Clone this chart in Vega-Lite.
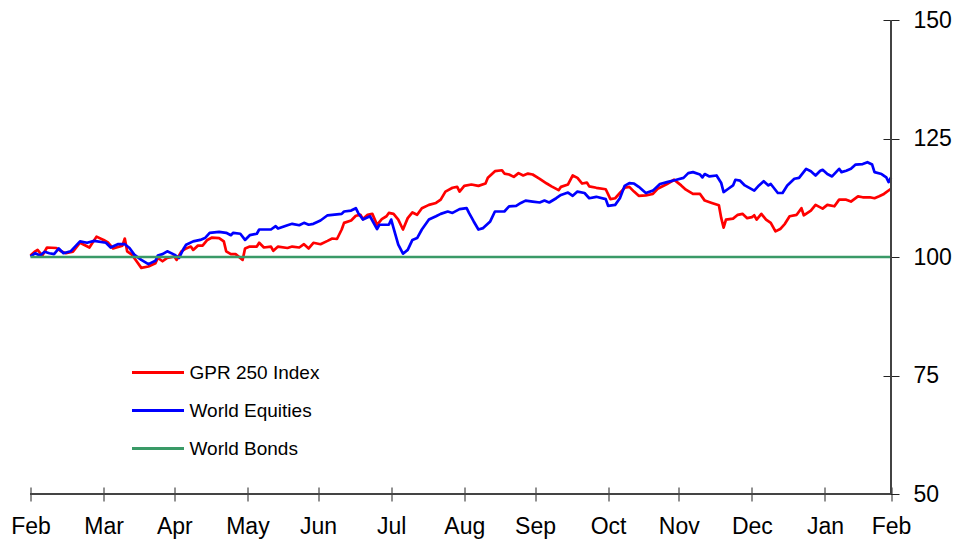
{
  "$schema": "https://vega.github.io/schema/vega-lite/v6.json",
  "width": 860.5,
  "height": 474,
  "autosize": {"type": "none"},
  "padding": {"left": 30.5, "top": 20, "right": 73, "bottom": 49},
  "background": "white",
  "config": {"view": {"stroke": null}, "font": "Liberation Sans"},
  "data": {"values": [
    {"date":"2022-02-28","series":"GPR 250 Index","value":100.3},
    {"date":"2022-03-02","series":"GPR 250 Index","value":101.2},
    {"date":"2022-03-03","series":"GPR 250 Index","value":101.5},
    {"date":"2022-03-05","series":"GPR 250 Index","value":100.3},
    {"date":"2022-03-07","series":"GPR 250 Index","value":102.0},
    {"date":"2022-03-11","series":"GPR 250 Index","value":101.9},
    {"date":"2022-03-13","series":"GPR 250 Index","value":101.2},
    {"date":"2022-03-15","series":"GPR 250 Index","value":100.8},
    {"date":"2022-03-18","series":"GPR 250 Index","value":101.1},
    {"date":"2022-03-21","series":"GPR 250 Index","value":103.0},
    {"date":"2022-03-25","series":"GPR 250 Index","value":102.0},
    {"date":"2022-03-28","series":"GPR 250 Index","value":104.3},
    {"date":"2022-03-31","series":"GPR 250 Index","value":103.6},
    {"date":"2022-04-02","series":"GPR 250 Index","value":103.0},
    {"date":"2022-04-04","series":"GPR 250 Index","value":101.8},
    {"date":"2022-04-08","series":"GPR 250 Index","value":102.4},
    {"date":"2022-04-09","series":"GPR 250 Index","value":103.9},
    {"date":"2022-04-10","series":"GPR 250 Index","value":101.2},
    {"date":"2022-04-12","series":"GPR 250 Index","value":100.5},
    {"date":"2022-04-14","series":"GPR 250 Index","value":99.1},
    {"date":"2022-04-16","series":"GPR 250 Index","value":97.7},
    {"date":"2022-04-19","series":"GPR 250 Index","value":98.0},
    {"date":"2022-04-22","series":"GPR 250 Index","value":98.7},
    {"date":"2022-04-23","series":"GPR 250 Index","value":99.8},
    {"date":"2022-04-25","series":"GPR 250 Index","value":99.1},
    {"date":"2022-04-27","series":"GPR 250 Index","value":99.8},
    {"date":"2022-04-30","series":"GPR 250 Index","value":100.1},
    {"date":"2022-05-01","series":"GPR 250 Index","value":99.4},
    {"date":"2022-05-03","series":"GPR 250 Index","value":101.2},
    {"date":"2022-05-05","series":"GPR 250 Index","value":101.8},
    {"date":"2022-05-07","series":"GPR 250 Index","value":102.2},
    {"date":"2022-05-08","series":"GPR 250 Index","value":101.5},
    {"date":"2022-05-10","series":"GPR 250 Index","value":102.4},
    {"date":"2022-05-12","series":"GPR 250 Index","value":102.4},
    {"date":"2022-05-14","series":"GPR 250 Index","value":103.6},
    {"date":"2022-05-16","series":"GPR 250 Index","value":104.1},
    {"date":"2022-05-19","series":"GPR 250 Index","value":104.0},
    {"date":"2022-05-21","series":"GPR 250 Index","value":103.3},
    {"date":"2022-05-22","series":"GPR 250 Index","value":101.2},
    {"date":"2022-05-24","series":"GPR 250 Index","value":100.6},
    {"date":"2022-05-26","series":"GPR 250 Index","value":100.6},
    {"date":"2022-05-29","series":"GPR 250 Index","value":99.4},
    {"date":"2022-05-30","series":"GPR 250 Index","value":101.8},
    {"date":"2022-06-01","series":"GPR 250 Index","value":102.2},
    {"date":"2022-06-04","series":"GPR 250 Index","value":102.2},
    {"date":"2022-06-05","series":"GPR 250 Index","value":103.0},
    {"date":"2022-06-07","series":"GPR 250 Index","value":102.0},
    {"date":"2022-06-10","series":"GPR 250 Index","value":102.2},
    {"date":"2022-06-11","series":"GPR 250 Index","value":101.3},
    {"date":"2022-06-13","series":"GPR 250 Index","value":102.2},
    {"date":"2022-06-17","series":"GPR 250 Index","value":101.9},
    {"date":"2022-06-19","series":"GPR 250 Index","value":102.2},
    {"date":"2022-06-22","series":"GPR 250 Index","value":102.0},
    {"date":"2022-06-24","series":"GPR 250 Index","value":102.7},
    {"date":"2022-06-26","series":"GPR 250 Index","value":101.8},
    {"date":"2022-06-28","series":"GPR 250 Index","value":103.0},
    {"date":"2022-07-01","series":"GPR 250 Index","value":102.7},
    {"date":"2022-07-04","series":"GPR 250 Index","value":103.4},
    {"date":"2022-07-06","series":"GPR 250 Index","value":103.9},
    {"date":"2022-07-08","series":"GPR 250 Index","value":103.8},
    {"date":"2022-07-10","series":"GPR 250 Index","value":105.8},
    {"date":"2022-07-11","series":"GPR 250 Index","value":107.2},
    {"date":"2022-07-14","series":"GPR 250 Index","value":107.7},
    {"date":"2022-07-16","series":"GPR 250 Index","value":108.7},
    {"date":"2022-07-18","series":"GPR 250 Index","value":108.9},
    {"date":"2022-07-19","series":"GPR 250 Index","value":108.0},
    {"date":"2022-07-21","series":"GPR 250 Index","value":108.9},
    {"date":"2022-07-23","series":"GPR 250 Index","value":109.1},
    {"date":"2022-07-25","series":"GPR 250 Index","value":106.8},
    {"date":"2022-07-27","series":"GPR 250 Index","value":108.0},
    {"date":"2022-07-29","series":"GPR 250 Index","value":108.6},
    {"date":"2022-07-30","series":"GPR 250 Index","value":109.3},
    {"date":"2022-08-01","series":"GPR 250 Index","value":109.1},
    {"date":"2022-08-03","series":"GPR 250 Index","value":107.9},
    {"date":"2022-08-05","series":"GPR 250 Index","value":105.8},
    {"date":"2022-08-07","series":"GPR 250 Index","value":108.2},
    {"date":"2022-08-09","series":"GPR 250 Index","value":109.4},
    {"date":"2022-08-11","series":"GPR 250 Index","value":108.9},
    {"date":"2022-08-13","series":"GPR 250 Index","value":110.3},
    {"date":"2022-08-16","series":"GPR 250 Index","value":111.0},
    {"date":"2022-08-19","series":"GPR 250 Index","value":111.4},
    {"date":"2022-08-21","series":"GPR 250 Index","value":112.1},
    {"date":"2022-08-23","series":"GPR 250 Index","value":113.8},
    {"date":"2022-08-26","series":"GPR 250 Index","value":114.6},
    {"date":"2022-08-28","series":"GPR 250 Index","value":114.8},
    {"date":"2022-08-29","series":"GPR 250 Index","value":113.8},
    {"date":"2022-08-31","series":"GPR 250 Index","value":115.0},
    {"date":"2022-09-03","series":"GPR 250 Index","value":115.3},
    {"date":"2022-09-06","series":"GPR 250 Index","value":115.0},
    {"date":"2022-09-09","series":"GPR 250 Index","value":115.5},
    {"date":"2022-09-10","series":"GPR 250 Index","value":116.7},
    {"date":"2022-09-13","series":"GPR 250 Index","value":118.1},
    {"date":"2022-09-16","series":"GPR 250 Index","value":118.3},
    {"date":"2022-09-17","series":"GPR 250 Index","value":117.6},
    {"date":"2022-09-19","series":"GPR 250 Index","value":117.4},
    {"date":"2022-09-21","series":"GPR 250 Index","value":116.9},
    {"date":"2022-09-23","series":"GPR 250 Index","value":117.7},
    {"date":"2022-09-25","series":"GPR 250 Index","value":117.2},
    {"date":"2022-09-27","series":"GPR 250 Index","value":117.6},
    {"date":"2022-09-29","series":"GPR 250 Index","value":117.4},
    {"date":"2022-10-02","series":"GPR 250 Index","value":116.5},
    {"date":"2022-10-05","series":"GPR 250 Index","value":115.5},
    {"date":"2022-10-07","series":"GPR 250 Index","value":114.9},
    {"date":"2022-10-10","series":"GPR 250 Index","value":114.1},
    {"date":"2022-10-11","series":"GPR 250 Index","value":114.8},
    {"date":"2022-10-14","series":"GPR 250 Index","value":115.3},
    {"date":"2022-10-16","series":"GPR 250 Index","value":117.2},
    {"date":"2022-10-18","series":"GPR 250 Index","value":116.7},
    {"date":"2022-10-20","series":"GPR 250 Index","value":115.5},
    {"date":"2022-10-22","series":"GPR 250 Index","value":115.7},
    {"date":"2022-10-23","series":"GPR 250 Index","value":114.9},
    {"date":"2022-10-26","series":"GPR 250 Index","value":114.6},
    {"date":"2022-10-30","series":"GPR 250 Index","value":114.3},
    {"date":"2022-11-01","series":"GPR 250 Index","value":112.2},
    {"date":"2022-11-03","series":"GPR 250 Index","value":112.4},
    {"date":"2022-11-05","series":"GPR 250 Index","value":113.5},
    {"date":"2022-11-07","series":"GPR 250 Index","value":114.6},
    {"date":"2022-11-09","series":"GPR 250 Index","value":114.8},
    {"date":"2022-11-11","series":"GPR 250 Index","value":113.8},
    {"date":"2022-11-13","series":"GPR 250 Index","value":112.9},
    {"date":"2022-11-16","series":"GPR 250 Index","value":113.0},
    {"date":"2022-11-19","series":"GPR 250 Index","value":113.3},
    {"date":"2022-11-21","series":"GPR 250 Index","value":114.4},
    {"date":"2022-11-25","series":"GPR 250 Index","value":115.4},
    {"date":"2022-11-28","series":"GPR 250 Index","value":116.3},
    {"date":"2022-11-29","series":"GPR 250 Index","value":115.9},
    {"date":"2022-12-01","series":"GPR 250 Index","value":115.1},
    {"date":"2022-12-03","series":"GPR 250 Index","value":114.2},
    {"date":"2022-12-06","series":"GPR 250 Index","value":113.3},
    {"date":"2022-12-09","series":"GPR 250 Index","value":113.3},
    {"date":"2022-12-11","series":"GPR 250 Index","value":111.9},
    {"date":"2022-12-14","series":"GPR 250 Index","value":111.4},
    {"date":"2022-12-17","series":"GPR 250 Index","value":110.9},
    {"date":"2022-12-18","series":"GPR 250 Index","value":108.2},
    {"date":"2022-12-19","series":"GPR 250 Index","value":106.2},
    {"date":"2022-12-20","series":"GPR 250 Index","value":107.9},
    {"date":"2022-12-23","series":"GPR 250 Index","value":108.1},
    {"date":"2022-12-25","series":"GPR 250 Index","value":108.9},
    {"date":"2022-12-27","series":"GPR 250 Index","value":109.1},
    {"date":"2022-12-29","series":"GPR 250 Index","value":108.2},
    {"date":"2022-12-31","series":"GPR 250 Index","value":108.4},
    {"date":"2023-01-01","series":"GPR 250 Index","value":108.8},
    {"date":"2023-01-02","series":"GPR 250 Index","value":107.9},
    {"date":"2023-01-04","series":"GPR 250 Index","value":109.1},
    {"date":"2023-01-06","series":"GPR 250 Index","value":107.9},
    {"date":"2023-01-08","series":"GPR 250 Index","value":107.2},
    {"date":"2023-01-10","series":"GPR 250 Index","value":105.4},
    {"date":"2023-01-12","series":"GPR 250 Index","value":105.9},
    {"date":"2023-01-14","series":"GPR 250 Index","value":107.0},
    {"date":"2023-01-16","series":"GPR 250 Index","value":108.6},
    {"date":"2023-01-19","series":"GPR 250 Index","value":108.9},
    {"date":"2023-01-21","series":"GPR 250 Index","value":110.3},
    {"date":"2023-01-22","series":"GPR 250 Index","value":108.8},
    {"date":"2023-01-25","series":"GPR 250 Index","value":109.8},
    {"date":"2023-01-27","series":"GPR 250 Index","value":111.0},
    {"date":"2023-01-30","series":"GPR 250 Index","value":110.2},
    {"date":"2023-02-01","series":"GPR 250 Index","value":111.0},
    {"date":"2023-02-04","series":"GPR 250 Index","value":110.7},
    {"date":"2023-02-06","series":"GPR 250 Index","value":112.1},
    {"date":"2023-02-09","series":"GPR 250 Index","value":112.1},
    {"date":"2023-02-11","series":"GPR 250 Index","value":111.7},
    {"date":"2023-02-14","series":"GPR 250 Index","value":112.8},
    {"date":"2023-02-16","series":"GPR 250 Index","value":112.6},
    {"date":"2023-02-19","series":"GPR 250 Index","value":112.6},
    {"date":"2023-02-21","series":"GPR 250 Index","value":112.4},
    {"date":"2023-02-23","series":"GPR 250 Index","value":112.8},
    {"date":"2023-02-25","series":"GPR 250 Index","value":113.3},
    {"date":"2023-02-28","series":"GPR 250 Index","value":114.4},
    {"date":"2022-02-28","series":"World Equities","value":100.1},
    {"date":"2022-03-02","series":"World Equities","value":100.8},
    {"date":"2022-03-04","series":"World Equities","value":100.3},
    {"date":"2022-03-06","series":"World Equities","value":101.1},
    {"date":"2022-03-08","series":"World Equities","value":100.8},
    {"date":"2022-03-10","series":"World Equities","value":100.6},
    {"date":"2022-03-12","series":"World Equities","value":101.8},
    {"date":"2022-03-14","series":"World Equities","value":100.8},
    {"date":"2022-03-17","series":"World Equities","value":101.2},
    {"date":"2022-03-21","series":"World Equities","value":103.3},
    {"date":"2022-03-24","series":"World Equities","value":103.0},
    {"date":"2022-03-27","series":"World Equities","value":103.4},
    {"date":"2022-04-01","series":"World Equities","value":103.0},
    {"date":"2022-04-03","series":"World Equities","value":102.0},
    {"date":"2022-04-06","series":"World Equities","value":102.7},
    {"date":"2022-04-09","series":"World Equities","value":102.7},
    {"date":"2022-04-11","series":"World Equities","value":101.9},
    {"date":"2022-04-13","series":"World Equities","value":100.5},
    {"date":"2022-04-16","series":"World Equities","value":99.4},
    {"date":"2022-04-19","series":"World Equities","value":98.5},
    {"date":"2022-04-22","series":"World Equities","value":99.2},
    {"date":"2022-04-23","series":"World Equities","value":100.3},
    {"date":"2022-04-25","series":"World Equities","value":100.6},
    {"date":"2022-04-27","series":"World Equities","value":101.2},
    {"date":"2022-04-30","series":"World Equities","value":100.5},
    {"date":"2022-05-02","series":"World Equities","value":99.8},
    {"date":"2022-05-04","series":"World Equities","value":101.8},
    {"date":"2022-05-05","series":"World Equities","value":102.6},
    {"date":"2022-05-08","series":"World Equities","value":103.3},
    {"date":"2022-05-11","series":"World Equities","value":103.6},
    {"date":"2022-05-13","series":"World Equities","value":104.0},
    {"date":"2022-05-15","series":"World Equities","value":105.1},
    {"date":"2022-05-19","series":"World Equities","value":105.3},
    {"date":"2022-05-22","series":"World Equities","value":105.1},
    {"date":"2022-05-24","series":"World Equities","value":104.6},
    {"date":"2022-05-25","series":"World Equities","value":105.1},
    {"date":"2022-05-28","series":"World Equities","value":104.9},
    {"date":"2022-05-30","series":"World Equities","value":103.6},
    {"date":"2022-06-01","series":"World Equities","value":104.6},
    {"date":"2022-06-04","series":"World Equities","value":104.9},
    {"date":"2022-06-05","series":"World Equities","value":105.8},
    {"date":"2022-06-10","series":"World Equities","value":105.8},
    {"date":"2022-06-12","series":"World Equities","value":106.5},
    {"date":"2022-06-13","series":"World Equities","value":106.0},
    {"date":"2022-06-17","series":"World Equities","value":106.7},
    {"date":"2022-06-19","series":"World Equities","value":107.0},
    {"date":"2022-06-22","series":"World Equities","value":106.7},
    {"date":"2022-06-24","series":"World Equities","value":107.2},
    {"date":"2022-06-26","series":"World Equities","value":106.8},
    {"date":"2022-06-28","series":"World Equities","value":107.0},
    {"date":"2022-07-01","series":"World Equities","value":107.7},
    {"date":"2022-07-04","series":"World Equities","value":108.8},
    {"date":"2022-07-06","series":"World Equities","value":108.9},
    {"date":"2022-07-10","series":"World Equities","value":109.1},
    {"date":"2022-07-11","series":"World Equities","value":109.6},
    {"date":"2022-07-14","series":"World Equities","value":109.8},
    {"date":"2022-07-16","series":"World Equities","value":110.3},
    {"date":"2022-07-17","series":"World Equities","value":109.3},
    {"date":"2022-07-19","series":"World Equities","value":107.9},
    {"date":"2022-07-22","series":"World Equities","value":108.6},
    {"date":"2022-07-23","series":"World Equities","value":107.7},
    {"date":"2022-07-25","series":"World Equities","value":105.9},
    {"date":"2022-07-26","series":"World Equities","value":106.8},
    {"date":"2022-07-30","series":"World Equities","value":106.8},
    {"date":"2022-07-31","series":"World Equities","value":107.9},
    {"date":"2022-08-01","series":"World Equities","value":106.1},
    {"date":"2022-08-03","series":"World Equities","value":102.6},
    {"date":"2022-08-05","series":"World Equities","value":100.7},
    {"date":"2022-08-07","series":"World Equities","value":101.5},
    {"date":"2022-08-09","series":"World Equities","value":103.6},
    {"date":"2022-08-11","series":"World Equities","value":104.0},
    {"date":"2022-08-13","series":"World Equities","value":105.8},
    {"date":"2022-08-16","series":"World Equities","value":107.9},
    {"date":"2022-08-19","series":"World Equities","value":108.6},
    {"date":"2022-08-21","series":"World Equities","value":109.1},
    {"date":"2022-08-24","series":"World Equities","value":109.6},
    {"date":"2022-08-26","series":"World Equities","value":109.3},
    {"date":"2022-08-29","series":"World Equities","value":110.1},
    {"date":"2022-09-01","series":"World Equities","value":110.3},
    {"date":"2022-09-02","series":"World Equities","value":109.3},
    {"date":"2022-09-04","series":"World Equities","value":107.5},
    {"date":"2022-09-06","series":"World Equities","value":105.8},
    {"date":"2022-09-08","series":"World Equities","value":106.1},
    {"date":"2022-09-11","series":"World Equities","value":107.5},
    {"date":"2022-09-13","series":"World Equities","value":109.6},
    {"date":"2022-09-17","series":"World Equities","value":109.6},
    {"date":"2022-09-19","series":"World Equities","value":110.7},
    {"date":"2022-09-22","series":"World Equities","value":110.8},
    {"date":"2022-09-24","series":"World Equities","value":111.4},
    {"date":"2022-09-26","series":"World Equities","value":111.9},
    {"date":"2022-09-29","series":"World Equities","value":111.7},
    {"date":"2022-10-02","series":"World Equities","value":111.5},
    {"date":"2022-10-04","series":"World Equities","value":111.9},
    {"date":"2022-10-06","series":"World Equities","value":111.5},
    {"date":"2022-10-09","series":"World Equities","value":112.4},
    {"date":"2022-10-11","series":"World Equities","value":113.1},
    {"date":"2022-10-14","series":"World Equities","value":113.6},
    {"date":"2022-10-16","series":"World Equities","value":112.9},
    {"date":"2022-10-18","series":"World Equities","value":113.8},
    {"date":"2022-10-21","series":"World Equities","value":113.5},
    {"date":"2022-10-23","series":"World Equities","value":112.4},
    {"date":"2022-10-26","series":"World Equities","value":112.7},
    {"date":"2022-10-30","series":"World Equities","value":112.2},
    {"date":"2022-10-31","series":"World Equities","value":110.8},
    {"date":"2022-11-03","series":"World Equities","value":111.0},
    {"date":"2022-11-05","series":"World Equities","value":112.4},
    {"date":"2022-11-07","series":"World Equities","value":115.0},
    {"date":"2022-11-09","series":"World Equities","value":115.6},
    {"date":"2022-11-11","series":"World Equities","value":115.5},
    {"date":"2022-11-13","series":"World Equities","value":114.8},
    {"date":"2022-11-16","series":"World Equities","value":113.5},
    {"date":"2022-11-19","series":"World Equities","value":114.0},
    {"date":"2022-11-22","series":"World Equities","value":115.4},
    {"date":"2022-11-25","series":"World Equities","value":115.8},
    {"date":"2022-11-29","series":"World Equities","value":116.3},
    {"date":"2022-12-02","series":"World Equities","value":116.7},
    {"date":"2022-12-04","series":"World Equities","value":117.7},
    {"date":"2022-12-06","series":"World Equities","value":117.9},
    {"date":"2022-12-09","series":"World Equities","value":117.4},
    {"date":"2022-12-10","series":"World Equities","value":116.8},
    {"date":"2022-12-11","series":"World Equities","value":117.5},
    {"date":"2022-12-13","series":"World Equities","value":117.0},
    {"date":"2022-12-16","series":"World Equities","value":117.2},
    {"date":"2022-12-18","series":"World Equities","value":115.6},
    {"date":"2022-12-19","series":"World Equities","value":113.7},
    {"date":"2022-12-21","series":"World Equities","value":114.4},
    {"date":"2022-12-23","series":"World Equities","value":115.1},
    {"date":"2022-12-24","series":"World Equities","value":116.3},
    {"date":"2022-12-26","series":"World Equities","value":116.1},
    {"date":"2022-12-28","series":"World Equities","value":115.1},
    {"date":"2023-01-01","series":"World Equities","value":114.0},
    {"date":"2023-01-03","series":"World Equities","value":115.1},
    {"date":"2023-01-05","series":"World Equities","value":116.0},
    {"date":"2023-01-07","series":"World Equities","value":115.1},
    {"date":"2023-01-08","series":"World Equities","value":115.4},
    {"date":"2023-01-11","series":"World Equities","value":113.5},
    {"date":"2023-01-13","series":"World Equities","value":113.5},
    {"date":"2023-01-15","series":"World Equities","value":115.1},
    {"date":"2023-01-18","series":"World Equities","value":116.5},
    {"date":"2023-01-20","series":"World Equities","value":116.7},
    {"date":"2023-01-23","series":"World Equities","value":118.6},
    {"date":"2023-01-25","series":"World Equities","value":118.1},
    {"date":"2023-01-27","series":"World Equities","value":117.2},
    {"date":"2023-01-29","series":"World Equities","value":118.2},
    {"date":"2023-01-30","series":"World Equities","value":118.4},
    {"date":"2023-02-01","series":"World Equities","value":117.5},
    {"date":"2023-02-03","series":"World Equities","value":117.0},
    {"date":"2023-02-06","series":"World Equities","value":118.6},
    {"date":"2023-02-07","series":"World Equities","value":117.9},
    {"date":"2023-02-09","series":"World Equities","value":118.2},
    {"date":"2023-02-11","series":"World Equities","value":118.6},
    {"date":"2023-02-13","series":"World Equities","value":119.5},
    {"date":"2023-02-16","series":"World Equities","value":119.6},
    {"date":"2023-02-18","series":"World Equities","value":120.0},
    {"date":"2023-02-20","series":"World Equities","value":119.5},
    {"date":"2023-02-21","series":"World Equities","value":117.9},
    {"date":"2023-02-24","series":"World Equities","value":117.5},
    {"date":"2023-02-26","series":"World Equities","value":116.8},
    {"date":"2023-02-27","series":"World Equities","value":115.8},
    {"date":"2023-02-28","series":"World Equities","value":116.8},
    {"date":"2022-02-28","series":"World Bonds","value":100},
    {"date":"2023-02-28","series":"World Bonds","value":100}
  ]},
  "layer": [
    {
      "mark": {"type": "line", "strokeWidth": 2.7, "strokeJoin": "round"},
      "encoding": {
        "x": {
          "field": "date", "type": "temporal",
          "scale": {"type": "utc", "domain": [{"year": 2022, "month": 2, "date": 28, "utc": true}, {"year": 2023, "month": 2, "date": 28, "utc": true}], "nice": false},
          "axis": {
            "title": null, "labelExpr": "utcFormat(datum.value, '%b')",
            "values": [
              {"year": 2022, "month": 2, "date": 28, "utc": true},
              {"year": 2022, "month": 3, "date": 31, "utc": true},
              {"year": 2022, "month": 4, "date": 30, "utc": true},
              {"year": 2022, "month": 5, "date": 31, "utc": true},
              {"year": 2022, "month": 6, "date": 30, "utc": true},
              {"year": 2022, "month": 7, "date": 31, "utc": true},
              {"year": 2022, "month": 8, "date": 31, "utc": true},
              {"year": 2022, "month": 9, "date": 30, "utc": true},
              {"year": 2022, "month": 10, "date": 31, "utc": true},
              {"year": 2022, "month": 11, "date": 30, "utc": true},
              {"year": 2022, "month": 12, "date": 31, "utc": true},
              {"year": 2023, "month": 1, "date": 31, "utc": true},
              {"year": 2023, "month": 2, "date": 28, "utc": true}
            ],
            "grid": false, "domain": false, "offset": -7, "tickSize": 14, "tickColor": "#222", "tickWidth": 1,
            "labelFont": "Liberation Sans", "labelFontSize": 23, "labelColor": "#000", "labelPadding": 14,
            "labelFlush": false, "labelOverlap": false
          }
        },
        "y": {
          "field": "value", "type": "quantitative",
          "scale": {"domain": [50, 150], "nice": false, "zero": false},
          "axis": {
            "orient": "right", "title": null, "values": [50, 75, 100, 125, 150],
            "grid": false, "domain": false, "offset": -8, "tickSize": 16, "tickColor": "#222", "tickWidth": 1,
            "labelFont": "Liberation Sans", "labelFontSize": 23, "labelColor": "#000", "labelPadding": 14,
            "labelFlush": false, "labelOverlap": false
          }
        },
        "color": {
          "field": "series", "type": "nominal",
          "scale": {"domain": ["GPR 250 Index", "World Equities", "World Bonds"], "range": ["#FF0000", "#0000FF", "#3A9A67"]},
          "legend": {
            "title": null, "orient": "none", "legendX": 100, "legendY": 325, "padding": 0,
            "symbolType": "stroke", "symbolSize": 2704, "symbolStrokeWidth": 3,
            "labelFont": "Liberation Sans", "labelFontSize": 19, "labelColor": "#000", "labelOffset": 4, "rowPadding": 0
          }
        }
      }
    },
    {
      "mark": {"type": "rule", "color": "#444", "strokeWidth": 1.2},
      "encoding": {"y": {"datum": 50, "type": "quantitative"}}
    },
    {
      "mark": {"type": "rule", "color": "#444", "strokeWidth": 1.2},
      "encoding": {"x": {"datum": {"year": 2023, "month": 2, "date": 28, "utc": true}, "type": "temporal"}}
    }
  ]
}
